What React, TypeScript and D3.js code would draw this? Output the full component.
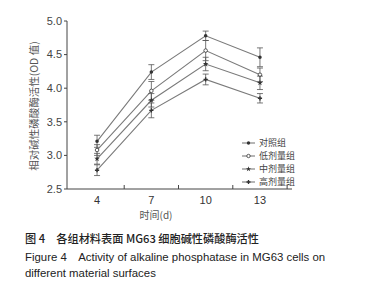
import React from "react";
import * as d3 from "d3";

const days = [4, 7, 10, 13];
const seriesNames = ["对照组", "低剂量组", "中剂量组", "高剂量组"];
const controlVals = [3.21, 4.24, 4.78, 4.46];
const lowVals = [3.08, 3.96, 4.56, 4.2];
const midVals = [2.95, 3.82, 4.36, 4.08];
const highVals = [2.78, 3.67, 4.13, 3.85];
const controlErr = [0.09, 0.11, 0.07, 0.14];
const lowErr = [0.08, 0.14, 0.15, 0.1];
const midErr = [0.08, 0.1, 0.1, 0.1];
const highErr = [0.08, 0.11, 0.08, 0.07];
const yTicks = [2.5, 3.0, 3.5, 4.0, 4.5, 5.0];
const xMinorTicks = [5.5, 8.5, 11.5, 14.5];
const symbols = [d3.symbolCircle, d3.symbolCircle, d3.symbolStar, d3.symbolCross];
const captionCn = "图 4　各组材料表面 MG63 细胞碱性磷酸酶活性";
const captionEn1 = "Figure 4　Activity of alkaline phosphatase in MG63 cells on";
const captionEn2 = "different material surfaces";

export default function App() {
  const x = d3.scaleLinear().domain([2.34, 14.77]).range([67, 292]);
  const y = d3.scaleLinear().domain([2.5, 5.0]).range([189, 21]);
  const vals = [controlVals, lowVals, midVals, highVals];
  const errs = [controlErr, lowErr, midErr, highErr];
  const line = d3
    .line<number>()
    .x((_, i) => x(days[i]))
    .y((d) => y(d));
  const sym = (i: number, s: number) => d3.symbol().type(symbols[i]).size(s)() as string;
  const lineColor = "#7a7a7a";
  const barColor = "#555";
  const sans = "Arial, 'Liberation Sans', 'Noto Sans CJK SC', sans-serif";
  return (
    <svg
      width={367}
      height={300}
      style={{ position: "fixed", left: 0, top: 0, background: "#fff" }}
    >
      <rect width={367} height={300} fill="#fff" />
      {/* axes */}
      <line x1={67} x2={67} y1={21} y2={189} stroke="#444" strokeWidth={1} />
      <line x1={67} x2={292} y1={189} y2={189} stroke="#444" strokeWidth={1} />
      {yTicks.map((t) => (
        <g key={t}>
          <line x1={64} x2={67} y1={y(t)} y2={y(t)} stroke="#444" />
          <text
            x={62}
            y={y(t)}
            dy="0.35em"
            textAnchor="end"
            fontSize={11}
            fontFamily={sans}
            fill="#444"
          >
            {t.toFixed(1)}
          </text>
        </g>
      ))}
      {xMinorTicks.map((t) => (
        <line key={t} x1={x(t)} x2={x(t)} y1={189} y2={185} stroke="#444" />
      ))}
      {days.map((d) => (
        <text
          key={d}
          x={x(d)}
          y={204}
          textAnchor="middle"
          fontSize={11}
          fontFamily={sans}
          fill="#333"
        >
          {d}
        </text>
      ))}
      <text
        x={156}
        y={219}
        textAnchor="middle"
        fontSize={10}
        fontFamily="'Noto Sans CJK SC', sans-serif"
        fill="#555"
      >
        时间(d)
      </text>
      <text
        transform={`translate(38,106) rotate(-90)`}
        textAnchor="middle"
        fontSize={10.5}
        fontFamily="'Noto Sans CJK SC', sans-serif"
        fill="#555"
      >
        相对碱性磷酸酶活性(OD 值)
      </text>
      {/* series */}
      {vals.map((v, si) => (
        <g key={si}>
          <path d={line(v) as string} fill="none" stroke={lineColor} strokeWidth={1.1} />
          {v.map((val, i) => {
            const e = errs[si][i];
            const cx = x(days[i]);
            return (
              <g key={i}>
                <line x1={cx} x2={cx} y1={y(val + e)} y2={y(val - e)} stroke={barColor} strokeWidth={0.8} />
                <line x1={cx - 3} x2={cx + 3} y1={y(val + e)} y2={y(val + e)} stroke={barColor} strokeWidth={0.8} />
                <line x1={cx - 3} x2={cx + 3} y1={y(val - e)} y2={y(val - e)} stroke={barColor} strokeWidth={0.8} />
                <path
                  d={sym(si, 10)}
                  transform={`translate(${cx},${y(val)})`}
                  fill={si === 1 ? "#fff" : "#333"}
                  stroke="#333"
                  strokeWidth={si === 1 ? 0.8 : 0}
                />
              </g>
            );
          })}
        </g>
      ))}
      {/* legend */}
      {seriesNames.map((n, i) => {
        const ly = 143 + i * 13;
        return (
          <g key={n}>
            <line x1={242} x2={255} y1={ly} y2={ly} stroke={lineColor} strokeWidth={1.1} />
            <path
              d={sym(i, 9)}
              transform={`translate(248.5,${ly})`}
              fill={i === 1 ? "#fff" : "#333"}
              stroke="#333"
              strokeWidth={i === 1 ? 0.8 : 0}
            />
            <text
              x={259}
              y={ly}
              dy="0.35em"
              fontSize={9}
              fontFamily="'Noto Sans CJK SC', sans-serif"
              fill="#444"
            >
              {n}
            </text>
          </g>
        );
      })}
      {/* caption */}
      <text x={25} y={243} fontSize={11.2} fontFamily="'Noto Sans CJK SC', sans-serif" fontWeight={500} fill="#222">
        {captionCn}
      </text>
      <text x={25} y={261} fontSize={11.4} fontFamily={sans} fill="#222">
        {captionEn1}
      </text>
      <text x={25} y={277} fontSize={11.4} fontFamily={sans} fill="#222">
        {captionEn2}
      </text>
    </svg>
  );
}
